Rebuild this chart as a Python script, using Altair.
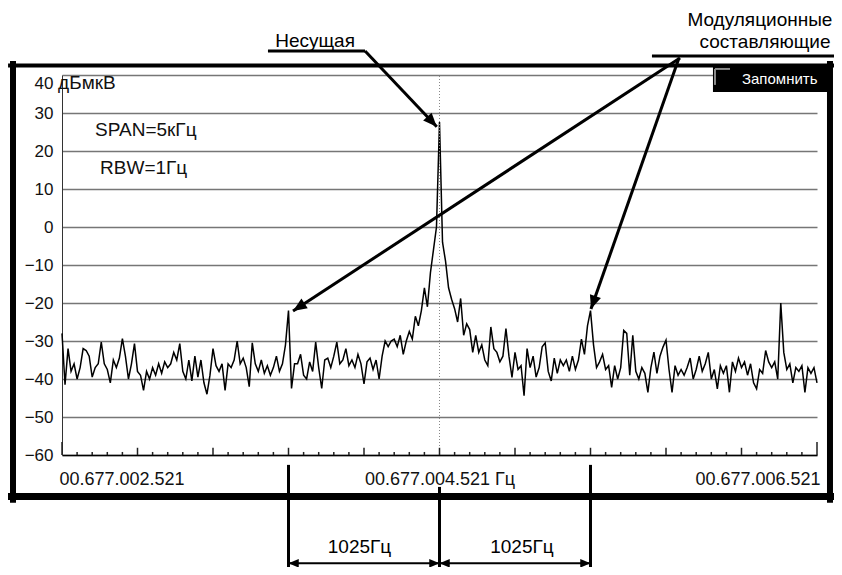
import altair as alt
import pandas as pd

# ---------------- spectrum trace (dBuV), one value every 20 Hz from -2500 Hz ----------------
freq_start_hz = -2500
freq_step_hz = 20
level_dbuv = [
    # 0 .. 60
    -28, -41.5, -32, -38, -36, -40, -37, -32, -32.5, -34,
    -39.5, -37, -36, -30.3, -36, -37.5, -41, -35, -37, -34.5,
    -29.4, -34, -40, -36, -30.7, -38, -39, -43, -38, -40,
    -37, -39, -36, -38.5, -35.5, -37, -36, -33, -35, -30.7,
    -38, -40, -35, -40.5, -34, -39.5, -35, -41, -44, -39,
    -32, -36.5, -38, -36, -43, -36, -37, -35, -30, -36,
    -34.5,
    # 61 .. 109
    -37, -42, -30.5, -36, -38, -35, -38.5, -36.5, -39, -37,
    -34, -38, -36, -31, -22, -42.5, -36, -36, -33.5, -39,
    -40, -35.5, -38, -30.3, -37, -42.5, -35, -34.5, -37, -34,
    -30.3, -36, -35, -32, -36.5, -35, -37, -33.5, -36, -41.3,
    -35.5, -34.5, -37.5, -35, -40, -34, -30, -31.5, -30,
    # 110 .. 139
    -29.5, -31.5, -28.5, -33.5, -30, -27.5, -29.5, -23.5, -26, -22,
    -16, -21, -12, -6, 0, 27.6, -4, -9, -16, -19,
    -21.5, -25, -18.8, -28.5, -25.5, -27, -33, -28.5, -33, -31,
    # 140 .. 184
    -35, -36.5, -26.3, -32, -33, -35.5, -34, -26.7, -34, -39.6,
    -33, -37.5, -36.5, -44.4, -32, -37, -34, -39.5, -37, -31.5,
    -30.5, -38, -40.5, -34.5, -38.5, -35, -36.5, -35, -38, -34,
    -37.5, -35, -29.5, -33.5, -26, -22, -31, -37, -35.5, -33.5,
    -37.5, -36.5, -42.2, -36.5, -40,
    # 185 .. 250
    -37, -27.2, -28, -39, -28.5, -38, -40, -37, -38.5, -43.5,
    -37, -32.9, -38.5, -34, -31.6, -29.8, -37.5, -43.5, -36.5, -39,
    -37.5, -39, -37, -34.5, -40, -37.5, -34, -38, -36, -33,
    -40, -37.5, -42.6, -36.5, -38.5, -36.5, -43.5, -35.5, -38, -34.5,
    -37, -35.5, -39, -36, -41, -42.6, -37.5, -38.5, -32.5, -35.5,
    -37, -35.5, -40, -20, -33, -37.5, -36, -41, -37, -38,
    -36.5, -43.5, -37, -38.5, -37, -41,
]
freq_offset_hz = [freq_start_hz + freq_step_hz * i for i in range(len(level_dbuv))]

# ---------------- axes ----------------
x_domain = [-2500, 2500]
y_domain = [-60, 40]
y_tick_values = [-60, -50, -40, -30, -20, -10, 0, 10, 20, 30, 40]
x_label_values = [-2500, 0, 2500]
x_label_texts = ["00.677.002.521", "00.677.004.521 Гц", "00.677.006.521"]
end_ticks_hz = [-2500, 2500]
major_ticks_hz = [-2000, -1500, -1000, -500, 0, 500, 1000, 1500, 2000]
minor_ticks_hz = [f for f in range(-2500, 2501, 100) if f % 500 != 0]
carrier_hz = 0

# ---------------- annotation geometry (Hz offset, dBuV) ----------------
ann_texts = ["Несущая", "Модуляционные", "составляющие", "1025Гц", "1025Гц"]
ann_text_x = [-824, 2122, 2156, -530, 546]
ann_text_y = [49, 54.6, 48.7, -84.3, -84.3]

inner_texts = ["SPAN=5кГц", "RBW=1Гц", "дБмкВ"]
inner_text_x = [-2281, -2248, -2526]
inner_text_y = [25.5, 15.4, 37.9]

seg_x = [-1136, -493, 1407, 1593, 1586, -1000, 0, 1000, -1000, 0]
seg_y = [46.3, 46.3, 45.0, 44.5, 44.5, -62.6, -68.4, -62.6, -88.5, -88.5]
seg_x2 = [-493, -18, 2666, -970, 1003, -1000, 0, 1000, 0, 1000]
seg_y2 = [46.3, 26.4, 45.0, -22.1, -21.6, -91.6, -91.6, -91.6, -88.5, -88.5]
seg_w = [3, 3, 3, 3, 3, 3, 3, 3, 2, 2]

head_big_x = [-18, -970, 1003]
head_big_y = [26.4, -22.1, -21.6]
head_big_angle = [137, 237, 199]
head_small_x = [-1000, 0, 0, 1000]
head_small_y = [-88.5, -88.5, -88.5, -88.5]
head_small_angle = [270, 90, 270, 90]

frame_x = [-2844, -2824.5, 2586, -2844]
frame_y = [42.5, 42.9, 42.9, -70.9]
frame_x2 = [2666, -2824.5, 2586, 2606]
frame_y2 = [42.5, -71.8, -71.8, -70.9]
frame_w = [4, 6, 6, 7]

box_x, box_x2, box_y, box_y2 = [1811], [2586], [42.1], [35.5]
check_x = [1824.5, 1824.5]
check_y = [41.6, 41.6]
check_x2 = [1824.5, 1924]
check_y2 = [37.4, 41.6]
box_label = ["Запомнить"]
box_label_x = [2003]
box_label_y = [38.95]

FONT = "Liberation Sans, Arial, sans-serif"

xs = alt.Scale(domain=x_domain, nice=False, zero=False)
ys = alt.Scale(domain=y_domain, nice=False, zero=False)

label_expr = ("datum.value < -1000 ? '%s' : datum.value > 1000 ? '%s' : '%s'"
              % (x_label_texts[0], x_label_texts[2], x_label_texts[1]))

AX_X = alt.Axis(values=x_label_values, labelExpr=label_expr, grid=False, ticks=False, title=None,
                domainColor="black", domainWidth=1.5, labelFlush=True, labelFlushOffset=3,
                labelFontSize=18, labelFont=FONT, labelColor="#111", labelPadding=15)
AX_Y = alt.Axis(values=y_tick_values, grid=True, gridColor="#767676", gridWidth=1.5, title=None,
                ticks=False, domainColor="#333", domainWidth=1,
                labelFontSize=17, labelFont=FONT, labelColor="#111", labelPadding=9,
                labelBaseline={"condition": {"test": "datum.value == 40", "value": "top"},
                               "value": "middle"})


def X(field):
    return alt.X(field, scale=xs, axis=AX_X)


def Y(field):
    return alt.Y(field, scale=ys, axis=AX_Y)


trace_df = pd.DataFrame({"f": freq_offset_hz, "L": level_dbuv})
trace = alt.Chart(trace_df).mark_line(color="black", strokeWidth=1.5).encode(
    x=X("f:Q"), y=Y("L:Q"))

center_df = pd.DataFrame({"f": [carrier_hz], "y1": [y_domain[0]], "y2": [y_domain[1]]})
center_line = alt.Chart(center_df).mark_rule(color="#888", strokeWidth=1, strokeDash=[1, 2]).encode(
    x=X("f:Q"), y=Y("y1:Q"), y2="y2:Q")

n_ticks = len(end_ticks_hz) + len(major_ticks_hz) + len(minor_ticks_hz)
tick_df = pd.DataFrame({
    "f": end_ticks_hz + major_ticks_hz + minor_ticks_hz,
    "y1": [y_domain[0]] * n_ticks,
    "y2": [y_domain[0] + 3.4] * len(end_ticks_hz) + [y_domain[0] + 1.9] * len(major_ticks_hz)
          + [y_domain[0] + 0.8] * len(minor_ticks_hz),
})
ticks = alt.Chart(tick_df).mark_rule(color="#222", strokeWidth=1.5).encode(
    x=X("f:Q"), y=Y("y1:Q"), y2="y2:Q")

inner_df = pd.DataFrame({"t": inner_texts, "x": inner_text_x, "y": inner_text_y})
inner = alt.Chart(inner_df).mark_text(align="left", baseline="middle", font=FONT, fontSize=19,
                                      color="#111").encode(
    x=X("x:Q"), y=Y("y:Q"), text="t:N")

frame_df = pd.DataFrame({"x": frame_x, "y": frame_y, "x2": frame_x2, "y2": frame_y2, "w": frame_w})
frame = alt.Chart(frame_df).mark_rule(color="black", strokeCap="square").encode(
    x=X("x:Q"), y=Y("y:Q"), x2="x2:Q", y2="y2:Q", strokeWidth=alt.StrokeWidth("w:Q", scale=None))

box_df = pd.DataFrame({"x": box_x, "x2": box_x2, "y": box_y, "y2": box_y2})
box = alt.Chart(box_df).mark_rect(color="black").encode(
    x=X("x:Q"), x2="x2:Q", y=Y("y:Q"), y2="y2:Q")

check_df = pd.DataFrame({"x": check_x, "y": check_y, "x2": check_x2, "y2": check_y2})
check = alt.Chart(check_df).mark_rule(color="#8a8a8a", strokeWidth=2).encode(
    x=X("x:Q"), y=Y("y:Q"), x2="x2:Q", y2="y2:Q")

box_text_df = pd.DataFrame({"t": box_label, "x": box_label_x, "y": box_label_y})
box_text = alt.Chart(box_text_df).mark_text(align="left", baseline="middle", font=FONT,
                                            fontSize=15, color="white").encode(
    x=X("x:Q"), y=Y("y:Q"), text="t:N")

seg_df = pd.DataFrame({"x": seg_x, "y": seg_y, "x2": seg_x2, "y2": seg_y2, "w": seg_w})
segs = alt.Chart(seg_df).mark_rule(color="black").encode(
    x=X("x:Q"), y=Y("y:Q"), x2="x2:Q", y2="y2:Q", strokeWidth=alt.StrokeWidth("w:Q", scale=None))

ARROW = "M0,0L-0.42,1L0.42,1Z"
hb_df = pd.DataFrame({"x": head_big_x, "y": head_big_y, "a": head_big_angle})
heads_big = alt.Chart(hb_df).mark_point(shape=ARROW, filled=True, color="black", opacity=1,
                                        size=760, strokeWidth=0).encode(
    x=X("x:Q"), y=Y("y:Q"), angle=alt.Angle("a:Q", scale=None))
hs_df = pd.DataFrame({"x": head_small_x, "y": head_small_y, "a": head_small_angle})
heads_small = alt.Chart(hs_df).mark_point(shape=ARROW, filled=True, color="black", opacity=1,
                                          size=420, strokeWidth=0).encode(
    x=X("x:Q"), y=Y("y:Q"), angle=alt.Angle("a:Q", scale=None))

ann_df = pd.DataFrame({"t": ann_texts, "x": ann_text_x, "y": ann_text_y})
ann = alt.Chart(ann_df).mark_text(align="center", baseline="middle", font=FONT, fontSize=19,
                                  color="black").encode(
    x=X("x:Q"), y=Y("y:Q"), text="t:N")

chart = alt.layer(
    trace, center_line, ticks, inner, box, check, box_text, frame, segs, heads_big, heads_small, ann
).properties(
    width=755, height=380,
    autosize=alt.AutoSizeParams(type="none"),
    padding={"left": 54, "top": 67, "right": 17, "bottom": 112},
    background="white",
).configure_view(stroke=None)

chart.save("out.html", embed_options={"renderer": "svg", "actions": False})
